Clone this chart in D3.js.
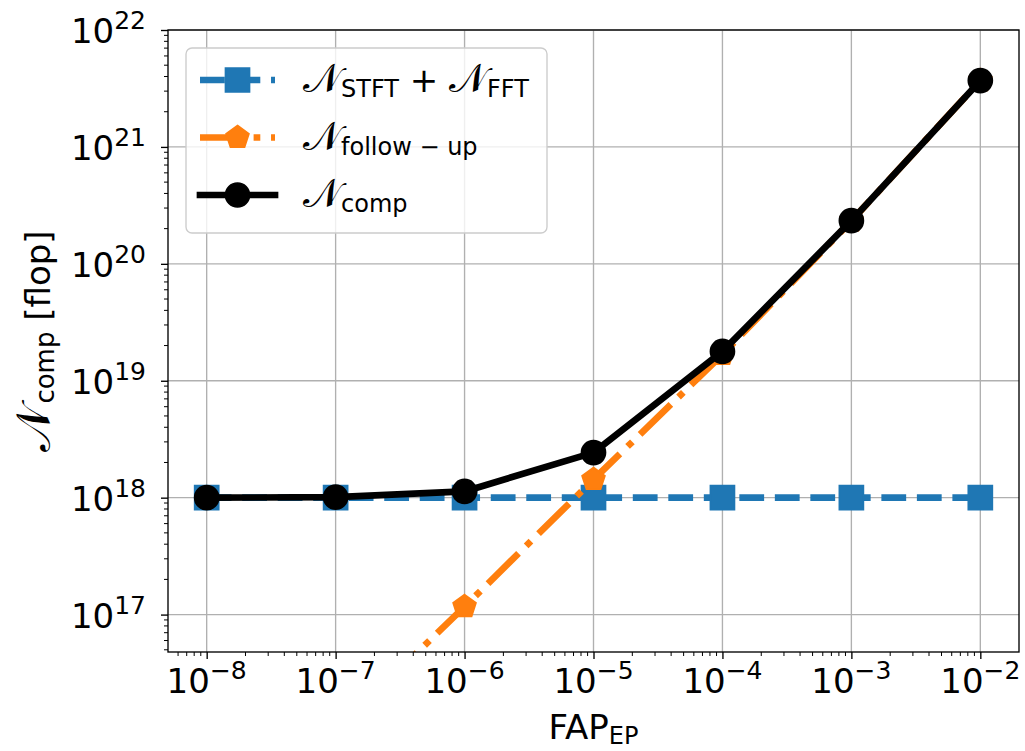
<!DOCTYPE html>
<html>
<head>
<meta charset="utf-8">
<script src="https://cdn.jsdelivr.net/npm/d3@7"></script>
<style>
    body { margin: 0; background: #fff; }
    svg text { font-family: "DejaVu Sans", sans-serif; fill: #000; }
</style>
</head>
<body>
<div id="chart"></div>
<script>
// FAP_EP values on the x axis
var fapValues = [1e-8, 1e-7, 1e-6, 1e-5, 1e-4, 1e-3, 1e-2];

// Series values (flop)
var stftFftValues = [1.0e18, 1.0e18, 1.0e18, 1.0e18, 1.0e18, 1.0e18, 1.0e18];
var followUpValues = [3.0e15, 1.0e16, 1.17e17, 1.43e18, 1.68e19, 2.33e20, 3.69e21];
var compValues = [1.0e18, 1.01e18, 1.13e18, 2.43e18, 1.78e19, 2.34e20, 3.69e21];

// Tick exponents
var xTickExps = [-8, -7, -6, -5, -4, -3, -2];
var yTickExps = [17, 18, 19, 20, 21, 22];

(function() {

    var width = 1025,
        height = 751,
        pLeft = 168,
        pRight = 1019,
        pTop = 30,
        pBottom = 652;

    var blue = '#1f77b4',
        orange = '#ff7f0e',
        lw = 6.7,
        msize = 24,
        calN = '\u{1D4A9}', // calligraphic N
        calSize = 40;

    var svg = d3.select('#chart').append('svg')
        .attr('width', width)
        .attr('height', height);

    var x = d3.scaleLog().domain([Math.pow(10, -8.3), Math.pow(10, -1.7)]).range([pLeft, pRight]);
    var y = d3.scaleLog().domain([Math.pow(10, 16.68), 1e22]).range([pBottom, pTop]);

    var xMajor = xTickExps.map(function(e) { return Math.pow(10, e); });
    var yMajor = yTickExps.map(function(e) { return Math.pow(10, e); });

    /**
     * minor log ticks (2..9 x decade) inside the domain
     */
    function minorTicks(scale, e0, e1) {
        var out = [], dom = scale.domain();
        for (var e = e0; e <= e1; e++) {
            for (var k = 2; k <= 9; k++) {
                var v = k * Math.pow(10, e);
                if (v > dom[0] && v < dom[1]) out.push(v);
            }
        }
        return out;
    }

    // Grid
    var grid = svg.append('g');
    grid.selectAll('.gx').data(xMajor).enter().append('line')
        .attr('x1', function(d) { return x(d); }).attr('x2', function(d) { return x(d); })
        .attr('y1', pTop).attr('y2', pBottom)
        .attr('stroke', '#b0b0b0').attr('stroke-width', 1.35);
    grid.selectAll('.gy').data(yMajor).enter().append('line')
        .attr('y1', function(d) { return y(d); }).attr('y2', function(d) { return y(d); })
        .attr('x1', pLeft).attr('x2', pRight)
        .attr('stroke', '#b0b0b0').attr('stroke-width', 1.35);

    svg.append('clipPath').attr('id', 'plotclip')
        .append('rect')
        .attr('x', pLeft).attr('y', pTop)
        .attr('width', pRight - pLeft).attr('height', pBottom - pTop);

    var plot = svg.append('g').attr('clip-path', 'url(#plotclip)');

    var series = [
        { values: stftFftValues, color: blue, dash: (3.7 * lw) + ',' + (1.6 * lw), marker: 'square', cap: 'butt' },
        { values: followUpValues, color: orange, dash: [6.4 * lw, 1.6 * lw, 1 * lw, 1.6 * lw].join(','), marker: 'pentagon', cap: 'butt' },
        { values: compValues, color: '#000', dash: null, marker: 'circle', cap: 'square' }
    ];

    /**
     * Path string for a marker centred on 0,0
     */
    function markerPath(kind) {
        var r = msize / 2;
        if (kind === 'square') {
            return 'M' + (-r) + ',' + (-r) + 'H' + r + 'V' + r + 'H' + (-r) + 'Z';
        }
        if (kind === 'pentagon') {
            var pts = [];
            for (var i = 0; i < 5; i++) {
                var a = -Math.PI / 2 + i * 2 * Math.PI / 5;
                pts.push([r * Math.cos(a), r * Math.sin(a)]);
            }
            return 'M' + pts.map(function(p) { return p[0].toFixed(2) + ',' + p[1].toFixed(2); }).join('L') + 'Z';
        }
        return d3.symbol().type(d3.symbolCircle).size(Math.PI * r * r)();
    }

    var line = d3.line()
        .x(function(d) { return x(d[0]); })
        .y(function(d) { return y(d[1]); });

    series.forEach(function(s) {
        var pts = fapValues.map(function(f, i) { return [f, s.values[i]]; });
        var g = plot.append('g');
        g.append('path')
            .attr('d', line(pts))
            .attr('fill', 'none')
            .attr('stroke', s.color)
            .attr('stroke-width', lw)
            .attr('stroke-dasharray', s.dash)
            .attr('stroke-linecap', s.cap)
            .attr('stroke-linejoin', 'round');
        g.selectAll('.m').data(pts).enter().append('path')
            .attr('d', markerPath(s.marker))
            .attr('transform', function(d) { return 'translate(' + x(d[0]) + ',' + y(d[1]) + ')'; })
            .attr('fill', s.color)
            .attr('stroke', s.color)
            .attr('stroke-width', 1.7);
    });

    // Axes: ticks only, frame drawn below
    var xAxis = svg.append('g').attr('transform', 'translate(0,' + pBottom + ')');
    xAxis.call(d3.axisBottom(x).tickValues(xMajor).tickSize(7).tickSizeOuter(0).tickFormat(''));
    xAxis.append('g').selectAll('line').data(minorTicks(x, -9, -2)).enter().append('line')
        .attr('x1', function(d) { return x(d); }).attr('x2', function(d) { return x(d); })
        .attr('y1', 0).attr('y2', 4)
        .attr('stroke', '#000').attr('stroke-width', 1);

    var yAxis = svg.append('g').attr('transform', 'translate(' + pLeft + ',0)');
    yAxis.call(d3.axisLeft(y).tickValues(yMajor).tickSize(7).tickSizeOuter(0).tickFormat(''));
    yAxis.append('g').selectAll('line').data(minorTicks(y, 16, 21)).enter().append('line')
        .attr('y1', function(d) { return y(d); }).attr('y2', function(d) { return y(d); })
        .attr('x1', 0).attr('x2', -4)
        .attr('stroke', '#000').attr('stroke-width', 1);

    [xAxis, yAxis].forEach(function(ax) {
        ax.selectAll('.tick line').attr('stroke-width', 1.35);
        ax.selectAll('.tick text').remove();
        ax.select('.domain').remove();
    });

    // Frame
    svg.append('rect')
        .attr('x', pLeft).attr('y', pTop)
        .attr('width', pRight - pLeft).attr('height', pBottom - pTop)
        .attr('fill', 'none').attr('stroke', '#000').attr('stroke-width', 1.35);

    // Tick labels 10^n
    function powerLabel(sel, exp) {
        sel.text('10');
        sel.append('tspan')
            .attr('dy', -14)
            .attr('font-size', 25)
            .text(String(exp).replace('-', '\u2212'));
    }

    svg.append('g').selectAll('text').data(xTickExps).enter().append('text')
        .attr('x', function(d) { return x(Math.pow(10, d)); })
        .attr('y', 693)
        .attr('text-anchor', 'middle')
        .attr('font-size', 34)
        .each(function(d) { powerLabel(d3.select(this), d); });

    svg.append('g').selectAll('text').data(yTickExps).enter().append('text')
        .attr('x', 146)
        .attr('y', function(d) { return y(Math.pow(10, d)) + 13; })
        .attr('text-anchor', 'end')
        .attr('font-size', 34)
        .each(function(d) { powerLabel(d3.select(this), d); });

    // Axis labels
    var xl = svg.append('text')
        .attr('x', (pLeft + pRight) / 2)
        .attr('y', 739)
        .attr('text-anchor', 'middle')
        .attr('font-size', 34)
        .text('FAP');
    xl.append('tspan').attr('dy', 5).attr('font-size', 24).text('EP');

    var yl = svg.append('text')
        .attr('transform', 'translate(50,' + ((pTop + pBottom) / 2) + ') rotate(-90)')
        .attr('text-anchor', 'middle')
        .attr('font-size', 34);
    yl.append('tspan').attr('font-size', 48).text(calN);
    yl.append('tspan').attr('dy', 4).attr('dx', 2).attr('font-size', 26).text('comp');
    yl.append('tspan').attr('dy', -4).text(' [flop]');

    // Legend
    var legend = svg.append('g');
    legend.append('rect')
        .attr('x', 186).attr('y', 48)
        .attr('width', 361).attr('height', 185)
        .attr('rx', 6)
        .attr('fill', '#fff').attr('fill-opacity', 0.8)
        .attr('stroke', '#cccccc').attr('stroke-width', 1.35);

    var legendLabels = [
        [[calN, 0], ['STFT', 1], [' + ', 0], [calN, 0], ['FFT', 1]],
        [[calN, 0], ['follow \u2212 up', 1]],
        [[calN, 0], ['comp', 1]]
    ];

    series.forEach(function(s, i) {
        var ry = 80 + i * 57.5;
        var row = legend.append('g');
        row.append('line')
            .attr('x1', 200).attr('x2', 275)
            .attr('y1', ry).attr('y2', ry)
            .attr('stroke', s.color)
            .attr('stroke-width', lw)
            .attr('stroke-dasharray', s.dash)
            .attr('stroke-linecap', s.cap);
        row.append('path')
            .attr('d', markerPath(s.marker))
            .attr('transform', 'translate(237.5,' + ry + ')')
            .attr('fill', s.color).attr('stroke', s.color).attr('stroke-width', 1.7);
        var t = row.append('text')
            .attr('x', 303).attr('y', ry + 12)
            .attr('font-size', 34);
        var sub = false;
        legendLabels[i].forEach(function(part) {
            var dy = 0;
            if (part[1] && !sub) { dy = 5; sub = true; }
            else if (!part[1] && sub) { dy = -5; sub = false; }
            t.append('tspan')
                .attr('dy', dy)
                .attr('font-size', part[1] ? 24 : (part[0] === calN ? calSize : 34))
                .text(part[0]);
        });
    });

})();
</script>
</body>
</html>
